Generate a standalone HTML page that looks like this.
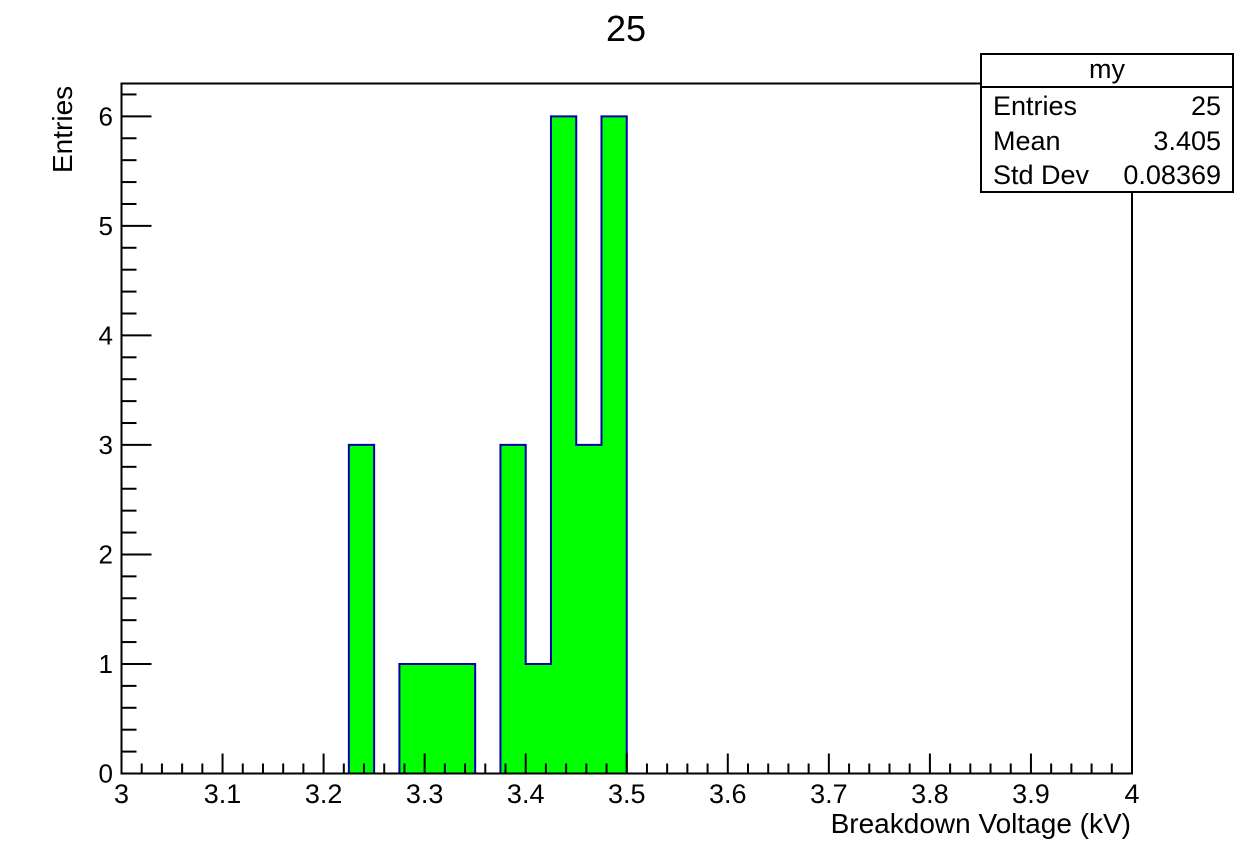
<!DOCTYPE html>
<html><head><meta charset="utf-8"><style>body{margin:0;background:#fff}svg{display:block}text{font-family:"Liberation Sans",sans-serif;fill:#000}</style></head>
<body>
<svg id="c" width="1248" height="846">
<text x="626" y="41" font-size="36" text-anchor="middle">25</text>
<g id="plot"></g>
<text x="1131" y="833" font-size="28" text-anchor="end">Breakdown Voltage (kV)</text>
<text transform="translate(72,173) rotate(-90)" font-size="28">Entries</text>
<g>
<rect x="981" y="54" width="252" height="138" fill="#fff" stroke="#000" stroke-width="2"/>
<line x1="981" y1="87" x2="1233" y2="87" stroke="#000" stroke-width="2"/>
<text x="1107" y="78" font-size="27" text-anchor="middle">my</text>
<text x="993" y="115" font-size="27">Entries</text><text x="1221" y="115" font-size="27" text-anchor="end">25</text>
<text x="993" y="150" font-size="27">Mean</text><text x="1221" y="150" font-size="27" text-anchor="end">3.405</text>
<text x="993" y="184" font-size="27">Std Dev</text><text x="1221" y="184" font-size="27" text-anchor="end">0.08369</text>
</g>
</svg>
<script>
const binLow = 3.0, binWidth = 0.025;
const counts = [0,0,0,0,0,0,0,0,0,3,0,1,1,1,0,3,1,6,3,6,0,0,0,0,0,0,0,0,0,0,0,0,0,0,0,0,0,0,0,0];
const xTicks = ["3","3.1","3.2","3.3","3.4","3.5","3.6","3.7","3.8","3.9","4"];
const yTicks = ["0","1","2","3","4","5","6"];
const X0=121.5,X1=1132,Y0=773.5,YT=83.5,xmin=3,xmax=4,ymax=6.3;
const sx=v=>X0+(v-xmin)/(xmax-xmin)*(X1-X0);
const sy=v=>Y0-v/ymax*(Y0-YT);
const g=document.getElementById('plot');
const NS='http://www.w3.org/2000/svg';
function mk(t,a){const e=document.createElementNS(NS,t);for(const k in a)e.setAttribute(k,a[k]);g.appendChild(e);return e;}
let d='M'+sx(binLow)+','+sy(0);
counts.forEach((c,i)=>{
  const xa=sx(binLow+i*binWidth),xb=sx(binLow+(i+1)*binWidth);
  if(c>0){const r=mk('rect',{x:xa-0.5,y:sy(c),width:xb-xa+1,height:sy(0)-sy(c),fill:'#00ff00'});
  
  }
  d+=' L'+xa+','+sy(c)+' L'+xb+','+sy(c);
});
d+=' L'+sx(binLow+counts.length*binWidth)+','+sy(0);
const p=mk('path',{d:d,fill:'none',stroke:'#0000aa','stroke-width':2});


const fr=mk('rect',{x:X0,y:YT,width:X1-X0,height:Y0-YT,fill:'none',stroke:'#000','stroke-width':2});


for(let k=0;k<=50;k++){const v=xmin+k*0.02,x=sx(v),L=(k%5==0)?20:10;
  mk('line',{x1:x,y1:Y0,x2:x,y2:Y0-L,stroke:'#000','stroke-width':2});}
xTicks.forEach((t,i)=>{const v=xmin+i*0.1;
  const e=mk('text',{x:sx(v),y:803,'font-size':27,'text-anchor':'middle'});e.textContent=t;
  
  });
for(let k=0;k*0.2<=ymax+1e-9;k++){const v=k*0.2,y=sy(v),L=(k%5==0)?30:15;
  mk('line',{x1:X0,y1:y,x2:X0+L,y2:y,stroke:'#000','stroke-width':2});}
yTicks.forEach((t,i)=>{
  const e=mk('text',{x:113,y:sy(i)+9,'font-size':26,'text-anchor':'end'});e.textContent=t;
  
  });
</script>
</body></html>
